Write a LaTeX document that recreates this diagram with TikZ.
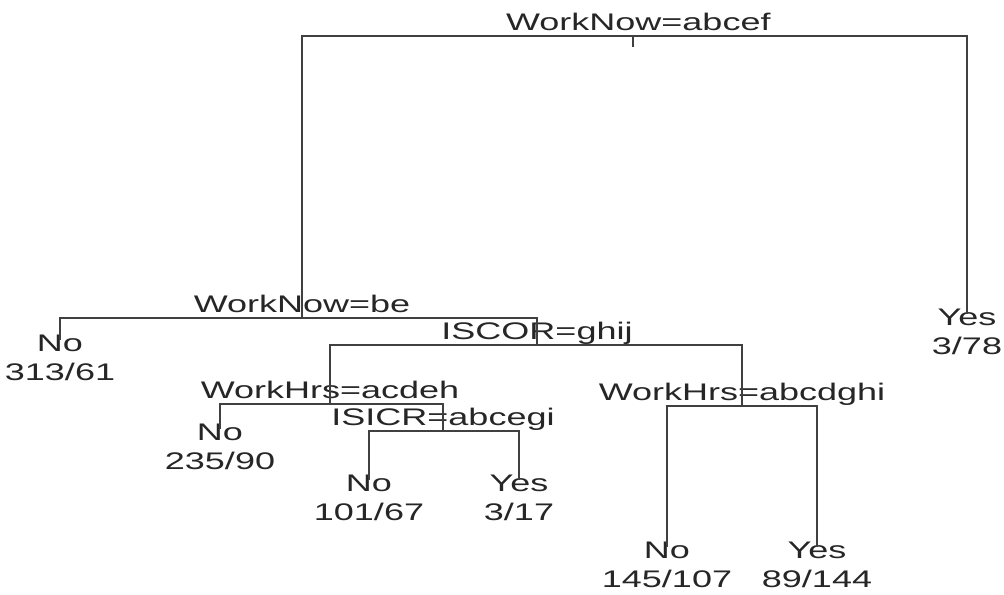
\documentclass[tikz,border=0pt]{standalone}
\usepackage{fontspec}
\setmainfont[FakeStretch=1.5]{Liberation Sans}
\begin{document}
\begin{tikzpicture}[x=0.75pt,y=-0.75pt,
  every node/.style={font=\fontsize{18}{21.75}\selectfont,text=black!85},
  split/.style={anchor=base,yshift=4.5pt,inner sep=0pt},
  leaf/.style={anchor=north,align=center,inner sep=0pt},
  branch/.style={draw=black!75,line width=1pt},
  toleaf/.style={branch,shorten >=-4pt}]
\useasboundingbox (0,0) rectangle (1004,594);
\coordinate (root) at (633,36);
\coordinate (stem) at (633,47);
\coordinate (n2) at (302,318);
\coordinate (n5) at (537,345);
\coordinate (n10) at (330,404);
\coordinate (n11) at (742,406);
\coordinate (n21) at (443,431);
\node[split,xshift=4pt] (s1) at (root) {WorkNow=abcef};
\node[split] (s2) at (n2) {WorkNow=be};
\node[split] (s5) at (n5) {ISCOR=ghij};
\node[split] (s10) at (n10) {WorkHrs=acdeh};
\node[split] (s11) at (n11) {WorkHrs=abcdghi};
\node[split] (s21) at (n21) {ISICR=abcegi};
\node[leaf] (l3) at (967,309) {Yes\\3/78};
\node[leaf] (l4) at (60,335) {No\\313/61};
\node[leaf] (l20) at (220,424) {No\\235/90};
\node[leaf] (l42) at (369,475) {No\\101/67};
\node[leaf] (l43) at (519,475) {Yes\\3/17};
\node[leaf] (l22) at (667,542) {No\\145/107};
\node[leaf] (l23) at (817,542) {Yes\\89/144};
\draw[branch] (root) -- (stem);
\draw[branch] (root) -| (n2);
\draw[toleaf] (root) -| (l3.north);
\draw[toleaf] (n2) -| (l4.north);
\draw[branch] (n2) -| (n5);
\draw[branch] (n5) -| (n10);
\draw[branch] (n5) -| (n11);
\draw[toleaf] (n10) -| (l20.north);
\draw[branch] (n10) -| (n21);
\draw[toleaf] (n21) -| (l42.north);
\draw[toleaf] (n21) -| (l43.north);
\draw[toleaf] (n11) -| (l22.north);
\draw[toleaf] (n11) -| (l23.north);
\end{tikzpicture}
\end{document}
